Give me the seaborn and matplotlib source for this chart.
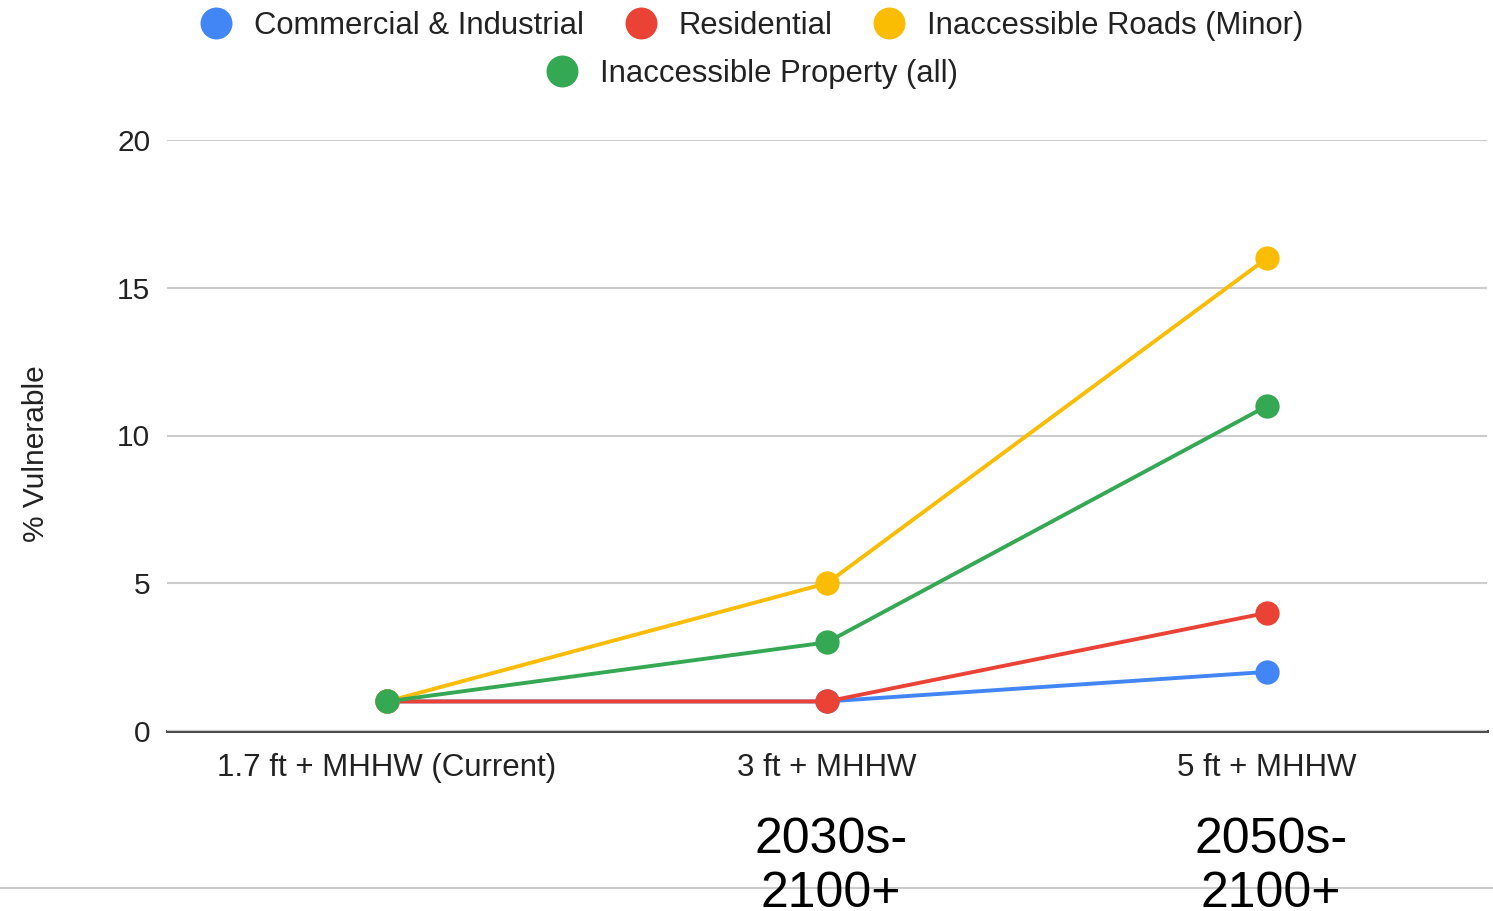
"""
Sea-level rise vulnerability chart
Percent of assets vulnerable under three MHHW scenarios
"""

import pandas as pd
import matplotlib.pyplot as plt
import matplotlib.transforms as mtransforms
from matplotlib.lines import Line2D
import seaborn as sns

# Data
levels = ['1.7 ft + MHHW (Current)', '3 ft + MHHW', '5 ft + MHHW']
period_labels = ['', '2030s-\n2100+', '2050s-\n2100+']

series_names = ['Commercial & Industrial', 'Residential',
                'Inaccessible Roads (Minor)', 'Inaccessible Property (all)']
commercial = [1, 1, 2]
residential = [1, 1, 4]
roads_minor = [1, 5, 16]
property_all = [1, 3, 11]

y_ticks = [0, 5, 10, 15, 20]

colors = ['#4285F4', '#EA4335', '#FBBC04', '#34A853']

# Long-form table for seaborn
wide = pd.DataFrame({
    'level': levels,
    series_names[0]: commercial,
    series_names[1]: residential,
    series_names[2]: roads_minor,
    series_names[3]: property_all,
})
df = wide.melt(id_vars='level', var_name='series', value_name='pct')

sns.set_theme(style='white')
plt.rcParams['font.family'] = ['Liberation Sans', 'DejaVu Sans']

W, H = 1493, 911
fig = plt.figure(figsize=(W / 100, H / 100), dpi=100)
ax = fig.add_axes([167 / W, 1 - 731 / H, 1320 / W, 591 / H])

sns.lineplot(data=df, x='level', y='pct', hue='series', hue_order=series_names,
             palette=colors, marker='o', markersize=17.5, markeredgewidth=0,
             linewidth=2.8, sort=False, legend=False, ax=ax)

ax.set_xlim(-0.5, 2.5)
ax.set_ylim(0, 20)
ax.set_yticks(y_ticks)
ax.set_yticklabels([str(t) for t in y_ticks])
ax.yaxis.grid(True, color='#cccccc', linewidth=1.5)
ax.xaxis.grid(False)
ax.set_axisbelow(True)

for side in ['top', 'left', 'right']:
    ax.spines[side].set_visible(False)
ax.spines['bottom'].set_color('#4d4d4d')
ax.spines['bottom'].set_linewidth(2.2)
ax.spines['bottom'].set_zorder(0.5)

ax.tick_params(axis='both', length=0, colors='#222222')
ax.tick_params(axis='y', pad=12, labelsize=21.5)
ax.tick_params(axis='x', pad=16, labelsize=22.5)

ax.set_xlabel('')
ax.set_ylabel('% Vulnerable', fontsize=21.5, color='#222222')
ax.yaxis.set_label_coords(-0.089, 0.47)

# Legend, wrapped over two centred rows like the original
handles = [Line2D([], [], color=c, marker='o', linestyle='', markersize=23,
                  markeredgewidth=0) for c in colors]
leg_kw = dict(frameon=False, loc='center', fontsize=22.3, handlelength=1.0,
              handletextpad=0.72, columnspacing=1.33, borderpad=0,
              borderaxespad=0, labelcolor='#222222')
fig.legend(handles[:3], series_names[:3], ncol=3,
           bbox_to_anchor=(752 / W, 1 - 26 / H), **leg_kw)
fig.legend(handles[3:], series_names[3:], ncol=1,
           bbox_to_anchor=(752 / W, 1 - 74 / H), **leg_kw)

# Slide separator line under the chart
fig.add_artist(Line2D([0, 1], [1 - 888 / H] * 2, transform=fig.transFigure,
                      color='#cccccc', linewidth=1.5, zorder=0))

# Period annotations below the x labels
trans = mtransforms.blended_transform_factory(ax.transData, fig.transFigure)
line_y = [1 - 840 / H, 1 - 894 / H]
for i, label in enumerate(period_labels):
    if not label:
        continue
    for part, y in zip(label.split('\n'), line_y):
        ax.annotate(part, xy=(i, y), xycoords=trans, xytext=(3, 0),
                    textcoords='offset points', ha='center', va='center',
                    fontsize=36, color='black', annotation_clip=False)

plt.savefig('out.png', dpi=100)
